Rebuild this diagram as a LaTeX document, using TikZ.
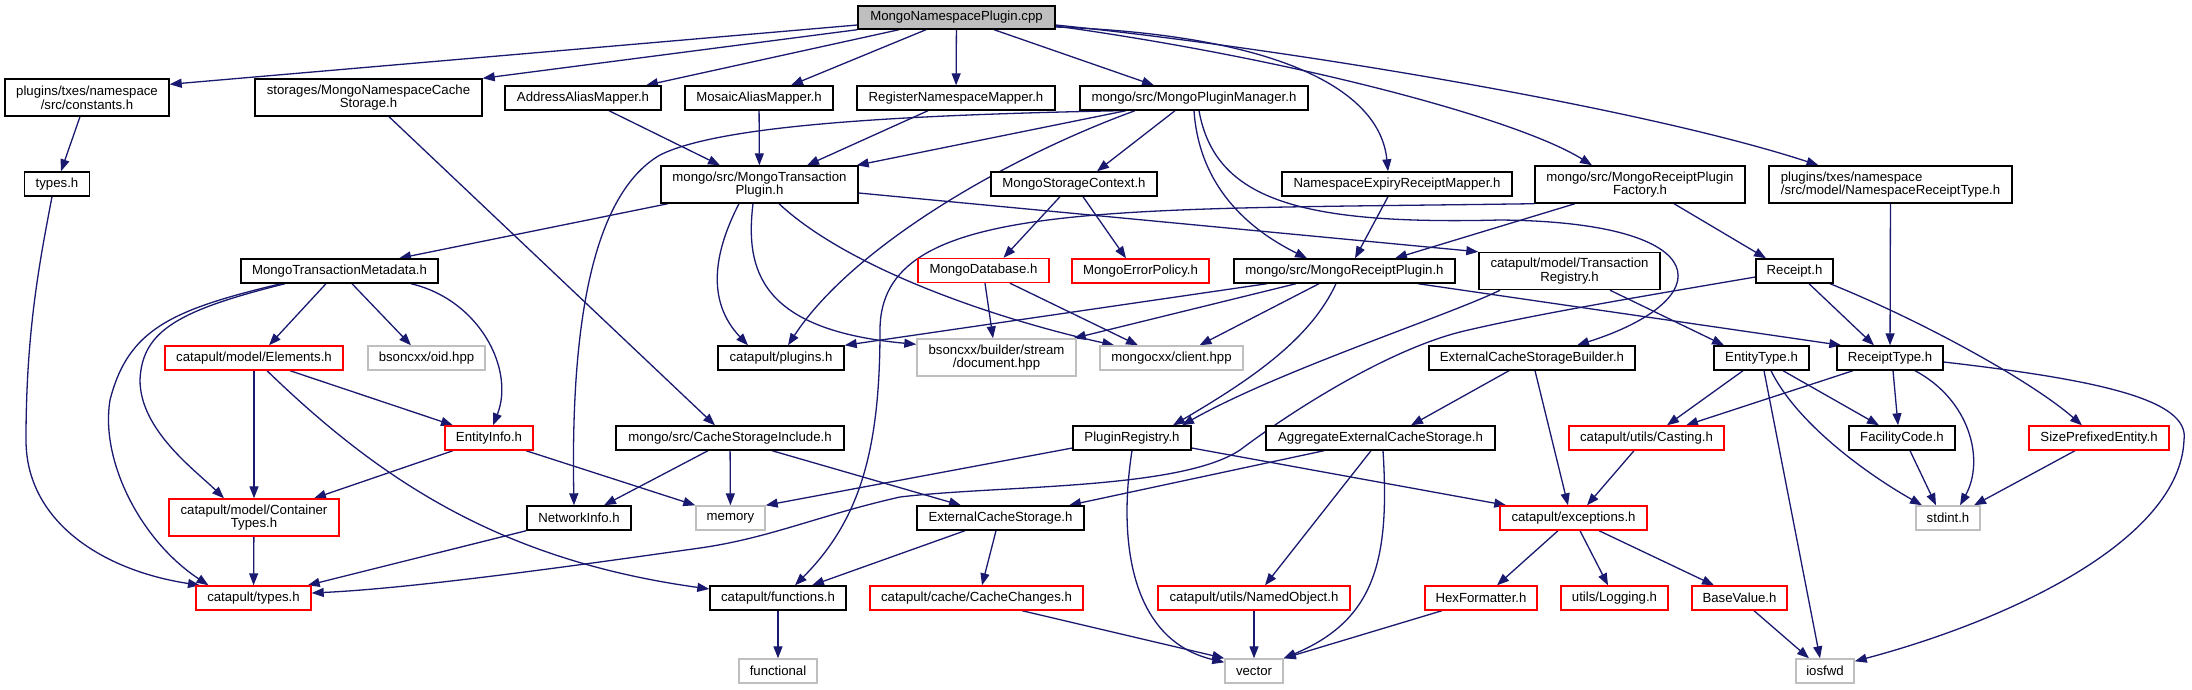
\documentclass[tikz,border=0pt]{standalone}
\usepackage{fontspec}
\setmainfont{Liberation Sans}
\usetikzlibrary{arrows.meta,backgrounds}
\definecolor{edgeblue}{HTML}{191970}
\definecolor{rootgray}{HTML}{BFBFBF}
\definecolor{sysgray}{HTML}{BFBFBF}
\definecolor{hdrred}{HTML}{FF0000}
\newcommand\dgfont{\fontsize{13.2pt}{13.6pt}\selectfont}
\tikzset{
  nb/.style={draw=black, line width=1.4pt, fill=white, inner sep=0pt, minimum height=24pt, font=\dgfont, align=center},
  nb2/.style={nb, minimum height=37pt},
  redb/.style={draw=hdrred},
  grayb/.style={draw=sysgray},
  conn/.style={draw=edgeblue, line width=1.3pt, -{Triangle[length=12pt,width=9pt]}, fill=none},
}
\begin{document}
\begin{tikzpicture}[x=1pt,y=-1pt]
\useasboundingbox (0,0) rectangle (2192,689);
% row 0
\node[nb, fill=rootgray, minimum width=197pt, minimum height=23pt] (root) at (956.5,17.5) {MongoNamespacePlugin.cpp};
% row 1
\node[nb2, minimum width=164pt] (const) at (87,97.5) {plugins/txes/namespace\\/src/constants.h};
\node[nb2, minimum width=227pt] (mncs) at (368.5,97.5) {storages/MongoNamespaceCache\\Storage.h};
\node[nb, minimum width=156pt] (aam) at (583,98) {AddressAliasMapper.h};
\node[nb, minimum width=148pt] (mam) at (759,98) {MosaicAliasMapper.h};
\node[nb, minimum width=198pt] (rnm) at (956,98) {RegisterNamespaceMapper.h};
\node[nb, minimum width=228pt] (mpm) at (1194,98) {mongo/src/MongoPluginManager.h};
% row 2
\node[nb, minimum width=65pt] (types) at (57,184) {types.h};
\node[nb2, minimum width=197pt] (mtp) at (759.5,184.5) {mongo/src/MongoTransaction\\Plugin.h};
\node[nb, minimum width=166pt] (msc) at (1074,184) {MongoStorageContext.h};
\node[nb, minimum width=230pt] (nerm) at (1397,184) {NamespaceExpiryReceiptMapper.h};
\node[nb2, minimum width=210pt] (mrpf) at (1640,184.5) {mongo/src/MongoReceiptPlugin\\Factory.h};
\node[nb2, minimum width=243pt, align=left] (nrt) at (1890.5,184.5) {plugins/txes/namespace\\/src/model/NamespaceReceiptType.h};
% row 3
\node[nb, minimum width=197pt] (mtm) at (339.5,271) {MongoTransactionMetadata.h};
\node[nb, redb, minimum width=131pt] (mdb) at (983.5,270.5) {MongoDatabase.h};
\node[nb, redb, minimum width=137pt] (mep) at (1140.5,271) {MongoErrorPolicy.h};
\node[nb, minimum width=221pt] (mrp) at (1344.5,271) {mongo/src/MongoReceiptPlugin.h};
\node[nb2, minimum width=181pt] (tr) at (1569.5,271) {catapult/model/Transaction\\Registry.h};
\node[nb, minimum width=77pt] (receipt) at (1794.5,271) {Receipt.h};
% row 4
\node[nb, redb, minimum width=178pt] (elem) at (254,358) {catapult/model/Elements.h};
\node[nb, grayb, minimum width=117pt] (oid) at (426.5,358) {bsoncxx/oid.hpp};
\node[nb, minimum width=126pt] (plugins) at (781,358) {catapult/plugins.h};
\node[nb2, grayb, minimum width=159pt] (doc) at (996.5,357.5) {bsoncxx/builder/stream\\/document.hpp};
\node[nb, grayb, minimum width=143pt] (client) at (1171.5,358) {mongocxx/client.hpp};
\node[nb, minimum width=206pt] (ecsb) at (1532,358) {ExternalCacheStorageBuilder.h};
\node[nb, minimum width=95pt] (et) at (1761.5,358) {EntityType.h};
\node[nb, minimum width=106pt] (rt) at (1890,358) {ReceiptType.h};
% row 5
\node[nb, redb, minimum width=88pt] (ei) at (489,438) {EntityInfo.h};
\node[nb, minimum width=228pt] (csi) at (730,438) {mongo/src/CacheStorageInclude.h};
\node[nb, minimum width=118pt] (pr) at (1132,438) {PluginRegistry.h};
\node[nb, minimum width=229pt] (aecs) at (1380.5,438) {AggregateExternalCacheStorage.h};
\node[nb, redb, minimum width=155pt] (cast) at (1646.5,438) {catapult/utils/Casting.h};
\node[nb, minimum width=106pt] (fc) at (1902,438) {FacilityCode.h};
\node[nb, redb, minimum width=140pt] (spe) at (2099,438) {SizePrefixedEntity.h};
% row 6
\node[nb2, redb, minimum width=170pt] (ct) at (254,517.5) {catapult/model/Container\\Types.h};
\node[nb, minimum width=104pt] (ni) at (579,518) {NetworkInfo.h};
\node[nb, grayb, minimum width=69pt] (mem) at (730.5,518) {memory};
\node[nb, minimum width=167pt] (ecs) at (1000.5,518) {ExternalCacheStorage.h};
\node[nb, redb, minimum width=147pt] (exc) at (1573.5,518) {catapult/exceptions.h};
\node[nb, grayb, minimum width=64pt] (stdint) at (1948,518) {stdint.h};
% row 7
\node[nb, redb, minimum width=115pt] (ctypes) at (253.5,598) {catapult/types.h};
\node[nb, minimum width=136pt] (func) at (778,598) {catapult/functions.h};
\node[nb, redb, minimum width=213pt] (cc) at (976.5,598) {catapult/cache/CacheChanges.h};
\node[nb, redb, minimum width=192pt] (no) at (1254,598) {catapult/utils/NamedObject.h};
\node[nb, redb, minimum width=112pt] (hex) at (1481,598) {HexFormatter.h};
\node[nb, redb, minimum width=107pt] (log) at (1614.5,598) {utils/Logging.h};
\node[nb, redb, minimum width=95pt] (bv) at (1739.5,598) {BaseValue.h};
% row 8
\node[nb, grayb, minimum width=78pt] (functional) at (778,671) {functional};
\node[nb, grayb, minimum width=58pt] (vector) at (1254,671) {vector};
\node[nb, grayb, minimum width=58pt] (iosfwd) at (1825,671) {iosfwd};

\begin{pgfonlayer}{background}
\fill[white] (0,0) rectangle (2192,689);
% root
\draw[conn] ([yshift=-7.5pt]root.west) -- ([yshift=-6pt]const.north east);
\draw[conn] (root.south west) -- (mncs.north east);
\draw[conn] ([xshift=-57.5pt]root.south) -- ([xshift=63pt]aam.north);
\draw[conn] ([xshift=-30.5pt]root.south) -- ([xshift=32pt]mam.north);
\draw[conn] (root) -- (rnm);
\draw[conn] ([xshift=37.5pt]root.south) -- ([xshift=-40pt]mpm.north);
\draw[conn] ([yshift=-9.5pt]root.east) .. controls (1280,35) and (1380,90) .. ([xshift=-9pt]nerm.north);
\draw[conn] ([yshift=-8.5pt]root.east) .. controls (1300,60) and (1520,120) .. ([xshift=-48pt]mrpf.north);
\draw[conn] ([yshift=-7.5pt]root.east) .. controls (1300,50) and (1650,110) .. ([xshift=-72pt]nrt.north);
% row 1
\draw[conn] ([xshift=-7pt]const.south) -- ([xshift=4pt]types.north);
\draw[conn] ([xshift=20.5pt]mncs.south) -- ([xshift=-15pt]csi.north);
\draw[conn] ([xshift=26pt]aam.south) -- ([xshift=-39.5pt]mtp.north);
\draw[conn] (mam) -- (mtp);
\draw[conn] ([xshift=-28pt]rnm.south) -- ([xshift=47.5pt]mtp.north);
\draw[conn] ([xshift=-68pt]mpm.south) -- ([xshift=-2pt]mtp.north east);
\draw[conn] ([xshift=-74pt]mpm.south) .. controls (900,115) and (720,125) .. (660,155) .. controls (600,190) and (570,300) .. ([xshift=-5pt]ni.north);
\draw[conn] ([xshift=-59pt]mpm.south) .. controls (1000,160) and (850,250) .. ([xshift=7pt]plugins.north);
\draw[conn] ([xshift=-19pt]mpm.south) -- ([xshift=23pt]msc.north);
\draw[conn] (mpm.south) .. controls (1198,170) and (1230,220) .. ([xshift=-37.5pt]mrp.north);
\draw[conn] ([xshift=5pt]mpm.south) .. controls (1215,200) and (1300,225) .. (1500,220) .. controls (1720,222) and (1720,300) .. ([xshift=45pt]ecsb.north);
\draw[conn] ([xshift=-5pt]types.south) .. controls (40,260) and (26,330) .. (26,440) .. controls (26,520) and (100,570) .. ([xshift=-53.5pt]ctypes.north);
% row 2
\draw[conn] ([xshift=-91.5pt]mtp.south) -- ([xshift=59.5pt]mtm.north);
\draw[conn] ([xshift=-20.5pt]mtp.south) .. controls (715,250) and (705,300) .. ([xshift=-33pt]plugins.north);
\draw[conn] ([xshift=-6.5pt]mtp.south) .. controls (745,270) and (760,330) .. ([yshift=-6pt]doc.north west);
\draw[conn] ([xshift=19.5pt]mtp.south) .. controls (850,270) and (1000,320) .. ([xshift=15pt]client.north west);
\draw[conn] ([yshift=-8.5pt]mtp.east) -- (tr.north west);
\draw[conn] ([xshift=-14pt]msc.south) -- ([xshift=20pt]mdb.north);
\draw[conn] ([xshift=9pt]msc.south) -- ([xshift=-14.5pt]mep.north);
\draw[conn] ([xshift=-9pt]nerm.south) -- ([xshift=10.5pt]mrp.north);
\draw[conn] ([xshift=-65pt]mrpf.south) -- ([xshift=50.5pt]mrp.north);
\draw[conn] ([xshift=34pt]mrpf.south) -- ([xshift=-28.5pt]receipt.north);
\draw[conn] (mrpf.south west) .. controls (1100,210) and (880,200) .. (880,330) .. controls (880,450) and (860,520) .. ([xshift=17pt]func.north);
\draw[conn] (nrt) -- (rt);
% row 3
\draw[conn] ([xshift=-13.5pt]mtm.south) -- ([xshift=15pt]elem.north);
\draw[conn] ([xshift=12.5pt]mtm.south) -- ([xshift=-15.5pt]oid.north);
\draw[conn] ([xshift=71.5pt]mtm.south) .. controls (480,300) and (515,370) .. ([xshift=4pt]ei.north);
\draw[conn] ([xshift=-54.5pt]mtm.south) .. controls (180,310) and (142,330) .. (140,380) .. controls (140,430) and (195,470) .. ([xshift=-30pt]ct.north);
\draw[conn] ([xshift=-58.5pt]mtm.south) .. controls (170,310) and (128,330) .. (110,400) .. controls (100,460) and (140,540) .. ([xshift=-45pt]ctypes.north);
\draw[conn] ([xshift=1.5pt]mdb.south) -- ([xshift=-3.5pt]doc.north);
\draw[conn] ([xshift=26.5pt]mdb.south) -- ([xshift=-33.5pt]client.north);
\draw[conn] ([xshift=-77.5pt]mrp.south) -- (plugins.north east);
\draw[conn] ([xshift=-48.5pt]mrp.south) -- ([xshift=-3pt]doc.north east);
\draw[conn] ([xshift=-25.5pt]mrp.south) -- ([xshift=28pt]client.north);
\draw[conn] ([xshift=-8.5pt]mrp.south) .. controls (1310,340) and (1250,380) .. ([xshift=41pt]pr.north);
\draw[conn] ([xshift=73.5pt]mrp.south) -- ([xshift=5pt]rt.north west);
\draw[conn] ([xshift=-69.5pt]tr.south) .. controls (1450,315) and (1280,370) .. ([xshift=50pt]pr.north);
\draw[conn] ([xshift=40.5pt]tr.south) -- ([xshift=-37.5pt]et.north);
\draw[conn] ([yshift=-6pt]receipt.west) .. controls (1650,295) and (1530,315) .. (1460,332) .. controls (1390,350) and (1300,405) .. (1240,450) .. controls (1180,490) and (1000,485) .. (900,497) .. controls (820,515) and (770,538) .. (700,548) .. controls (600,562) and (420,588) .. ([yshift=5pt]ctypes.east);
\draw[conn] ([xshift=14.5pt]receipt.south) -- ([xshift=-16pt]rt.north);
\draw[conn] ([xshift=35.5pt]receipt.south) .. controls (1920,320) and (2030,380) .. ([xshift=-17pt]spe.north);
% row 4
\draw[conn] (elem) -- (ct);
\draw[conn] ([xshift=36pt]elem.south) -- ([xshift=-36pt]ei.north);
\draw[conn] ([xshift=13pt]elem.south) .. controls (380,480) and (500,560) .. ([yshift=9pt]func.west);
\draw[conn] ([xshift=-23pt]ecsb.south) -- ([xshift=30.5pt]aecs.north);
\draw[conn] ([xshift=3pt]ecsb.south) -- ([xshift=-5.5pt]exc.north);
\draw[conn] ([xshift=-18.5pt]et.south) -- ([xshift=20.5pt]cast.north);
\draw[conn] ([xshift=21.5pt]et.south) -- ([xshift=-23pt]fc.north);
\draw[conn] ([xshift=9.5pt]et.south) .. controls (1795,420) and (1860,470) .. ([xshift=-26pt]stdint.north);
\draw[conn] ([xshift=2.5pt]et.south) -- ([xshift=-5pt]iosfwd.north);
\draw[conn] ([xshift=-37pt]rt.south) -- ([xshift=39.5pt]cast.north);
\draw[conn] ([xshift=3pt]rt.south) -- ([xshift=-4pt]fc.north);
\draw[conn] ([xshift=25pt]rt.south) .. controls (1970,400) and (1985,460) .. ([xshift=12pt]stdint.north);
\draw[conn] ([yshift=-4pt]rt.east) .. controls (2100,380) and (2190,400) .. (2184,440) .. controls (2180,540) and (2010,620) .. ([yshift=-3pt]iosfwd.north east);
% row 5
\draw[conn] ([xshift=-36pt]ei.south) -- ([xshift=60pt]ct.north);
\draw[conn] ([xshift=37pt]ei.south) -- (mem.north west);
\draw[conn] ([xshift=-22pt]csi.south) -- ([xshift=25pt]ni.north);
\draw[conn] (csi) -- (mem);
\draw[conn] ([xshift=42pt]csi.south) -- ([xshift=-39.5pt]ecs.north);
\draw[conn] ([yshift=-10pt]pr.west) -- (mem.north east);
\draw[conn] (pr.south) .. controls (1118,540) and (1130,640) .. ([yshift=-4pt]vector.north west);
\draw[conn] ([yshift=-10pt]pr.east) -- ([xshift=7pt]exc.north west);
\draw[conn] ([xshift=-56.5pt]aecs.south) -- ([xshift=68.5pt]ecs.north);
\draw[conn] ([xshift=-9.5pt]aecs.south) -- ([xshift=11pt]no.north);
\draw[conn] ([xshift=2.5pt]aecs.south) .. controls (1390,560) and (1375,620) .. (vector.north east);
\draw[conn] ([xshift=-24pt]spe.south) -- ([xshift=26pt]stdint.north);
\draw[conn] ([xshift=8pt]fc.south) -- ([xshift=-12pt]stdint.north);
\draw[conn] ([xshift=-12.5pt]cast.south) -- ([xshift=13.5pt]exc.north);
% row 6
\draw[conn] (ct) -- (ctypes);
\draw[conn] (ni.south west) -- ([xshift=-4pt]ctypes.north east);
\draw[conn] ([xshift=-15.5pt]exc.south) -- ([xshift=16pt]hex.north);
\draw[conn] ([xshift=6.5pt]exc.south) -- ([xshift=-6.5pt]log.north);
\draw[conn] ([xshift=25.5pt]exc.south) -- ([xshift=-25.5pt]bv.north);
\draw[conn] ([xshift=-35.5pt]ecs.south) -- ([xshift=34pt]func.north);
\draw[conn] ([xshift=-4.5pt]ecs.south) -- ([xshift=5.5pt]cc.north);
% row 7
\draw[conn] ([xshift=45.5pt]cc.south) -- (vector.north west);
\draw[conn] (no) -- (vector);
\draw[conn] ([xshift=-39pt]hex.south) -- (vector.north east);
\draw[conn] ([xshift=14.5pt]bv.south) -- ([xshift=-16pt]iosfwd.north);
\draw[conn] (func) -- (functional);
\end{pgfonlayer}
\end{tikzpicture}
\end{document}
